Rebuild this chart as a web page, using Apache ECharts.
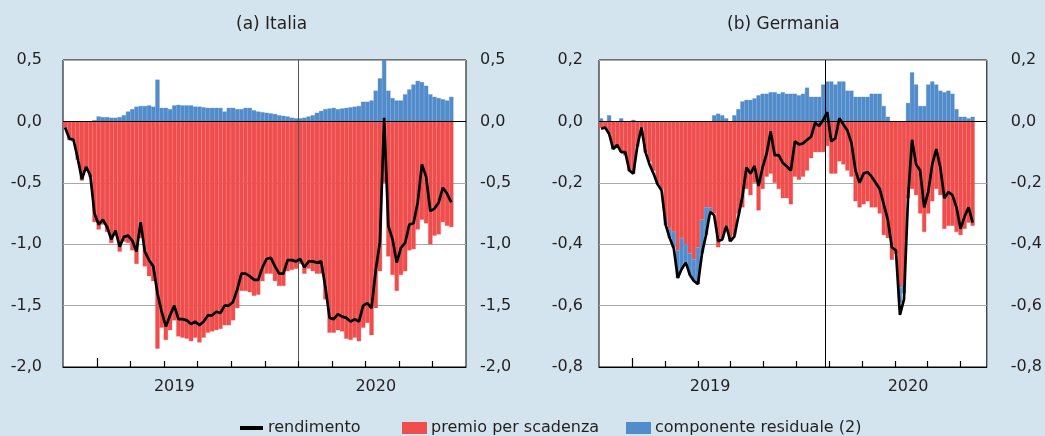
<!DOCTYPE html>
<html><head><meta charset="utf-8">
<script src="https://cdn.jsdelivr.net/npm/echarts@6/dist/echarts.min.js"></script>
<style>html,body{margin:0;padding:0;background:#d3e4ee;}#c{width:1045px;height:436px;}</style>
</head><body><div id="c"></div>
<script>
// ---- data (one value per sample, 8 samples per tick interval) ----
const years = ['2019', '2020'];
const seriesNames = ['rendimento', 'premio per scadenza', 'componente residuale (2)'];
const panelTitles = ['(a) Italia', '(b) Germania'];

const itLine = [-0.05,-0.14,-0.15,-0.30,-0.47,-0.37,-0.44,-0.75,-0.84,-0.80,-0.86,-0.96,-0.89,-1.02,-0.94,-0.93,-0.97,-1.06,-0.82,-1.06,
 -1.13,-1.18,-1.40,-1.55,-1.67,-1.58,-1.50,-1.61,-1.61,-1.62,-1.65,-1.63,-1.66,-1.63,-1.58,-1.58,-1.55,-1.56,-1.50,-1.50,
 -1.47,-1.37,-1.24,-1.24,-1.26,-1.29,-1.29,-1.19,-1.12,-1.11,-1.18,-1.24,-1.24,-1.13,-1.13,-1.14,-1.12,-1.19,-1.14,-1.14,
 -1.15,-1.14,-1.35,-1.60,-1.61,-1.57,-1.59,-1.60,-1.63,-1.61,-1.63,-1.50,-1.48,-1.52,-1.21,-0.98,0.03,-0.85,-0.96,-1.15,
 -1.03,-0.99,-0.84,-0.83,-0.66,-0.35,-0.45,-0.73,-0.71,-0.66,-0.54,-0.59,-0.66];
const itPremio = [-0.05,-0.15,-0.16,-0.31,-0.48,-0.38,-0.45,-0.82,-0.88,-0.84,-0.90,-0.99,-0.93,-1.06,-0.98,-0.99,-1.05,-1.16,-0.95,-1.18,
 -1.26,-1.30,-1.85,-1.68,-1.78,-1.70,-1.62,-1.75,-1.76,-1.77,-1.79,-1.76,-1.80,-1.76,-1.72,-1.71,-1.70,-1.69,-1.66,-1.66,
 -1.62,-1.52,-1.38,-1.38,-1.39,-1.42,-1.41,-1.30,-1.24,-1.24,-1.30,-1.34,-1.34,-1.22,-1.21,-1.20,-1.16,-1.24,-1.20,-1.22,
 -1.24,-1.24,-1.45,-1.72,-1.72,-1.70,-1.71,-1.77,-1.78,-1.76,-1.79,-1.68,-1.64,-1.74,-1.52,-1.22,-0.50,-1.10,-1.25,-1.38,
 -1.25,-1.22,-1.05,-1.04,-0.88,-0.80,-0.83,-1.00,-0.93,-0.92,-0.82,-0.85,-0.86];
const itResid = [0,0,0,0,0,0,0,0.01,0.04,0.035,0.035,0.03,0.03,0.035,0.05,0.08,0.10,0.12,0.125,0.125,
 0.13,0.12,0.34,0.11,0.11,0.10,0.13,0.135,0.13,0.13,0.13,0.12,0.12,0.115,0.11,0.11,0.11,0.11,0.08,0.11,
 0.11,0.10,0.10,0.11,0.11,0.09,0.08,0.075,0.07,0.065,0.06,0.05,0.045,0.04,0.03,0.025,0.025,0.03,0.04,0.05,
 0.07,0.085,0.10,0.105,0.11,0.10,0.105,0.11,0.115,0.12,0.125,0.16,0.16,0.17,0.25,0.35,0.50,0.25,0.19,0.17,
 0.17,0.22,0.26,0.30,0.33,0.32,0.29,0.22,0.20,0.19,0.18,0.17,0.20];

const deLine = [-0.024,-0.02,-0.04,-0.09,-0.077,-0.10,-0.10,-0.16,-0.17,-0.08,-0.02,-0.10,-0.14,-0.17,-0.205,-0.225,-0.337,-0.38,-0.413,-0.51,
 -0.48,-0.46,-0.50,-0.52,-0.53,-0.43,-0.37,-0.295,-0.305,-0.39,-0.385,-0.34,-0.39,-0.375,-0.31,-0.245,-0.15,-0.17,-0.145,-0.21,
 -0.15,-0.105,-0.033,-0.11,-0.11,-0.135,-0.147,-0.16,-0.065,-0.075,-0.072,-0.06,-0.05,-0.005,-0.015,0.005,0.03,-0.065,-0.055,0.01,
 -0.01,-0.03,-0.07,-0.16,-0.20,-0.17,-0.165,-0.18,-0.20,-0.22,-0.27,-0.32,-0.41,-0.42,-0.63,-0.58,-0.25,-0.06,-0.14,-0.16,
 -0.28,-0.23,-0.14,-0.09,-0.15,-0.25,-0.23,-0.24,-0.28,-0.35,-0.31,-0.28,-0.33];
const dePremio = [-0.02,-0.02,-0.04,-0.09,-0.08,-0.10,-0.11,-0.16,-0.17,-0.08,-0.02,-0.10,-0.13,-0.16,-0.20,-0.22,-0.32,-0.35,-0.36,-0.42,
 -0.38,-0.40,-0.43,-0.45,-0.41,-0.32,-0.28,-0.28,-0.30,-0.41,-0.38,-0.34,-0.39,-0.37,-0.30,-0.28,-0.22,-0.24,-0.20,-0.29,
 -0.22,-0.18,-0.17,-0.20,-0.22,-0.25,-0.25,-0.27,-0.18,-0.19,-0.18,-0.16,-0.12,-0.10,-0.10,-0.10,-0.08,-0.17,-0.17,-0.13,
 -0.14,-0.16,-0.18,-0.26,-0.28,-0.27,-0.26,-0.28,-0.28,-0.30,-0.37,-0.38,-0.45,-0.43,-0.54,-0.53,-0.25,-0.22,-0.24,-0.30,
 -0.36,-0.30,-0.26,-0.22,-0.24,-0.35,-0.34,-0.34,-0.36,-0.37,-0.35,-0.33,-0.34];
const deResid = [0.01,0,0.02,0,0,0.01,0,0,0.005,0,0,0,0,0,0,0,-0.017,-0.03,-0.05,-0.09,
 -0.10,-0.06,-0.07,-0.07,-0.12,-0.11,-0.09,-0.015,0.02,0.025,0.02,0.01,0,0.02,0.04,0.065,0.07,0.07,0.075,0.085,
 0.09,0.09,0.095,0.095,0.09,0.095,0.09,0.09,0.09,0.085,0.09,0.11,0.08,0.08,0.08,0.12,0.13,0.13,0.12,0.13,
 0.13,0.10,0.10,0.08,0.08,0.08,0.08,0.09,0.09,0.09,0.05,0.015,0,0,-0.05,-0.03,0.06,0.16,0.12,0.05,
 0.05,0.12,0.13,0.12,0.10,0.095,0.10,0.09,0.04,0.015,0.015,0.01,0.015];

// ---- styling / layout ----
const FONT = 'DejaVu Sans';
const TXT = '#231f20';
const RED = '#f04d4d';
const BLUE = '#528ccb';
const STEPS = 96;           // 12 tick intervals x 8 samples
const PER_TICK = 8;

const slots = Array.from({ length: STEPS }, (_, i) => String(i));
const linePts = arr => arr.map((v, i) => [i + 0.5, v]);
const comma = v => (Math.round(v * 10) / 10).toFixed(1).replace('.', ',');
const tickSlots = [];
for (let k = 1; k <= 11; k++) tickSlots.push(k * PER_TICK);

const panels = [
  { grid: { left: 63, top: 60, width: 403, height: 307 }, yMin: -2, yMax: 0.5, yInt: 0.5,
    line: itLine, premio: itPremio, resid: itResid, sepColor: '#555',
    yearSlot: [26, 74], leftMargin: 21, rightMargin: 14, titleLeft: 236 },
  { grid: { left: 599, top: 60, width: 394, height: 307 }, yMin: -0.8, yMax: 0.2, yInt: 0.2,
    line: deLine, premio: dePremio, resid: deResid, sepColor: '#000',
    yearSlot: [27, 76], leftMargin: 16, rightMargin: 24, titleLeft: 727 }
];

const grid = [], xAxis = [], yAxis = [], series = [], title = [], graphic = [];

panels.forEach((p, g) => {
  grid.push(Object.assign({ show: true, backgroundColor: '#fff', borderColor: '#000', borderWidth: 1 }, p.grid));
  title.push({ text: panelTitles[g], left: p.titleLeft, top: 16, padding: 0,
    textStyle: { fontFamily: FONT, fontSize: 17, fontWeight: 'normal', color: TXT } });
  xAxis.push({
    type: 'category', gridIndex: g, data: slots, boundaryGap: true, position: 'bottom',
    axisLine: { show: true, onZero: false, lineStyle: { color: '#000', width: 1 } },
    axisTick: { show: false },
    axisLabel: { show: true, interval: 0, margin: 12,
      formatter: (v, i) => { const k = p.yearSlot.indexOf(i); return k >= 0 ? years[k] : ''; },
      fontFamily: FONT, fontSize: 16, color: TXT },
    splitLine: { show: false }
  });
  xAxis.push({
    type: 'value', gridIndex: g, min: 0, max: STEPS, interval: PER_TICK,
    axisLine: { show: false, onZero: false },
    axisTick: { show: false },
    axisLabel: { show: false }, splitLine: { show: false }
  });
  const yBase = { type: 'value', gridIndex: g, min: p.yMin, max: p.yMax, interval: p.yInt,
    axisLine: { show: false }, axisTick: { show: false } };
  yAxis.push(Object.assign({}, yBase, { position: 'left',
    axisLabel: { formatter: comma, fontFamily: FONT, fontSize: 16, color: TXT, margin: p.leftMargin },
    splitLine: { show: true, lineStyle: { color: '#a9a9a9', width: 1 } } }));
  yAxis.push(Object.assign({}, yBase, { position: 'right',
    axisLabel: { formatter: comma, fontFamily: FONT, fontSize: 16, color: TXT, margin: p.rightMargin, align: 'left' },
    splitLine: { show: false } }));

  series.push({ name: seriesNames[1], type: 'bar', xAxisIndex: 2 * g, yAxisIndex: 2 * g, stack: 's' + g,
    barCategoryGap: '0%', itemStyle: { color: RED, borderColor: RED, borderWidth: 0.3 },
    data: p.premio, silent: true, animation: false });
  series.push({ name: seriesNames[2], type: 'bar', xAxisIndex: 2 * g, yAxisIndex: 2 * g, stack: 's' + g,
    barCategoryGap: '0%', itemStyle: { color: BLUE, borderColor: BLUE, borderWidth: 0.3 },
    data: p.resid, silent: true, animation: false });
  series.push({ name: seriesNames[0], type: 'line', xAxisIndex: 2 * g + 1, yAxisIndex: 2 * g, z: 5,
    symbol: 'none', itemStyle: { color: '#000' }, lineStyle: { color: '#000', width: 2.7 },
    data: linePts(p.line), silent: true, animation: false,
    markLine: { symbol: ['none', 'none'], silent: true, animation: false, label: { show: false },
      data: [
        { xAxis: 7 * PER_TICK, lineStyle: { color: p.sepColor, width: 1, type: 'solid' } },
        { yAxis: 0, lineStyle: { color: '#000', width: 1.2, type: 'solid' } }
      ] } });

  // bottom tick marks (inside, rising from the lower edge; the first one is taller)
  const bottom = p.grid.top + p.grid.height;
  tickSlots.forEach((t, k) => {
    const x = Math.round(p.grid.left + p.grid.width * t / STEPS) + 0.5;
    const len = k === 0 ? 9 : 6;
    graphic.push({
      type: 'rect', z: 100, silent: true,
      shape: { x: x - 0.6, y: bottom - len, width: 1.2, height: len },
      style: { fill: '#000' }
    });
  });
});

const legText = { fontFamily: FONT, fontSize: 16, color: TXT };
const legend = [
  { data: [{ name: seriesNames[0], icon: 'rect' }], left: 240, top: 420, padding: 0, itemWidth: 23, itemHeight: 4,
    textStyle: legText, selectedMode: false },
  { data: [{ name: seriesNames[1], icon: 'rect' }], left: 402, top: 420, padding: 0, itemWidth: 23, itemHeight: 10,
    textStyle: legText, selectedMode: false },
  { data: [{ name: seriesNames[2], icon: 'rect' }], left: 626, top: 420, padding: 0, itemWidth: 23, itemHeight: 10,
    textStyle: legText, selectedMode: false }
];

const chart = echarts.init(document.getElementById('c'));
chart.setOption({ backgroundColor: '#d3e4ee', animation: false, title, legend, grid, xAxis, yAxis, series, graphic });
</script>
</body></html>
